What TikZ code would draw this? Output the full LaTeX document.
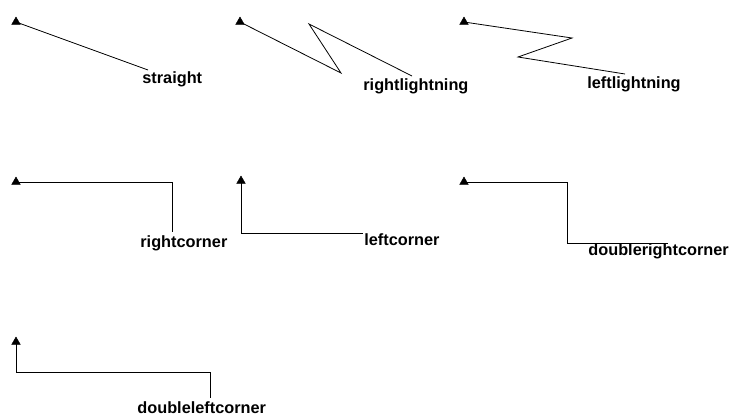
\documentclass[tikz,border=0pt]{standalone}
\usepackage{fontspec}
\setmainfont{Liberation Sans}
\usetikzlibrary{shapes.geometric}
\begin{document}
\begin{tikzpicture}[x=1pt,y=-1pt,line width=0.8pt,
    origin/.style={draw,fill,line width=0.4pt,regular polygon,regular polygon sides=3,inner sep=0pt,minimum size=10pt},
    lbl/.style={anchor=base west,inner sep=0pt,font=\fontsize{16.3}{19}\selectfont\bfseries}]
    \useasboundingbox (0,0) rectangle (734,418);

    % origins
    \coordinate (o1) at (16,22);
    \coordinate (o2) at (240,22);
    \coordinate (o3) at (464,22);
    \coordinate (o4) at (16,182);
    \coordinate (o5) at (241,181);
    \coordinate (o6) at (464,182);
    \coordinate (o7) at (16,342);

    % labels
    \node[lbl] (straight)  at (142,83)  {straight};
    \node[lbl] (rlight)    at (363,90)  {rightlightning};
    \node[lbl] (llight)    at (587,88)  {leftlightning};
    \node[lbl] (rcorner)   at (140,247) {rightcorner};
    \node[lbl] (lcorner)   at (364,245) {leftcorner};
    \node[lbl] (drcorner)  at (588,255) {doublerightcorner};
    \node[lbl] (dlcorner)  at (137,413) {doubleleftcorner};

    % end points
    \coordinate (e1) at (148,70);
    \coordinate (e2) at (412,76);
    \coordinate (e3) at (625,74);
    \coordinate (e4) at (172,232);
    \coordinate (e5) at (363,233);
    \coordinate (e6) at (668,243);
    \coordinate (e7) at (210,398);

    % Lines
    \draw (o1) -- (e1);
    \draw (o2) -- (341,73) -- (309,24) -- (e2);
    \draw (o3) -- (572,38) -- (518,57) -- (e3);
    \draw (o4) -| (e4);
    \draw (o5) |- (e5);
    \draw (o6) -- (567,182) |- (e6);
    \draw (o7) -- (16,372) -| (e7);

    % Markers
    \foreach \i in {1,...,7}
        \node[origin] (m\i) at (o\i) {};
\end{tikzpicture}
\end{document}
